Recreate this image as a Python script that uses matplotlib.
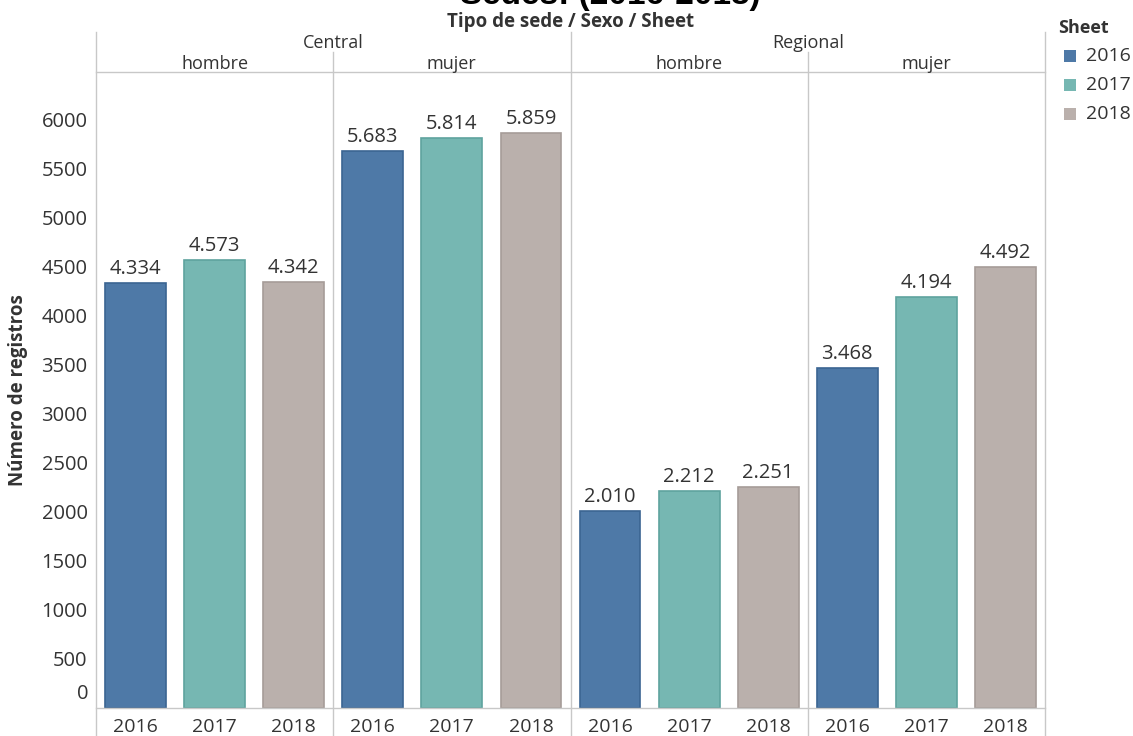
import matplotlib
matplotlib.use('Agg')
import matplotlib.pyplot as plt
import numpy as np
from matplotlib.lines import Line2D
from matplotlib.patches import Rectangle

# data
sedes = ['Central', 'Regional']
sexos = ['hombre', 'mujer']
years = ['2016', '2017', '2018']
v2016 = [4334, 5683, 2010, 3468]   # Central-hombre, Central-mujer, Regional-hombre, Regional-mujer
v2017 = [4573, 5814, 2212, 4194]
v2018 = [4342, 5859, 2251, 4492]
yticks = [0, 500, 1000, 1500, 2000, 2500, 3000, 3500, 4000, 4500, 5000, 5500, 6000]

colors = ['#4e79a7', '#76b7b2', '#bab0ac']
edges = ['#3b6592', '#5fa39e', '#a69c98']
grid = '#c8c8c8'
txt = '#333333'
font = 'Open Sans'
plt.rcParams['font.family'] = [font, 'DejaVu Sans']

W, H = 1133, 736
fig = plt.figure(figsize=(W / 100, H / 100), dpi=100)
L, R, T, B = 96, 1045, 72, 708
ax = fig.add_axes([L / W, (H - B) / H, (R - L) / W, (B - T) / H])

series = [v2016, v2017, v2018]
npanel = len(sedes) * len(sexos)
bw = 0.77
for j, vals in enumerate(series):
    x = np.arange(npanel) * 3 + j
    ax.bar(x, vals, bw, color=colors[j], edgecolor=edges[j], linewidth=1.2)
    for xi, v in zip(x, vals):
        ax.annotate(f'{v:,}'.replace(',', '.'), (xi, v), xytext=(0, 4), textcoords='offset pixels',
                    ha='center', va='bottom', fontsize=14.5, color=txt)

ax.set_xlim(-0.5, npanel * 3 - 0.5)
ax.set_ylim(0, 6485)
ax.set_xticks(np.arange(npanel * 3))
ax.set_xticklabels(years * npanel, fontsize=14, color=txt)
ax.set_yticks(yticks)
ax.set_yticklabels([''] + [str(t) for t in yticks[1:]], fontsize=14.5, color=txt)
ax.annotate('0', xy=(0, 0), xycoords=('axes fraction', 'data'), xytext=(-8, 14),
            textcoords='offset pixels', ha='right', va='center', fontsize=14.5, color=txt)
ax.tick_params(axis='both', length=0)
ax.tick_params(axis='y', pad=6)
ax.tick_params(axis='x', pad=7)
for s in ax.spines.values():
    s.set_visible(False)
ax.set_ylabel('Número de registros', fontsize=13.5, fontweight='bold', color=txt, labelpad=10)

# frame / header lines in pixel coords
def hline(y, x0, x1):
    fig.add_artist(Line2D([x0 / W, x1 / W], [1 - y / H, 1 - y / H], color=grid, lw=1))

def vline(x, y0, y1):
    fig.add_artist(Line2D([x / W, x / W], [1 - y0 / H, 1 - y1 / H], color=grid, lw=1))

hline(B, L, R)
hline(T, L, R)
pw = (R - L) / npanel
for k in range(npanel + 1):
    xk = L + k * pw
    top = 32 if k % 2 == 0 else 52
    vline(xk, top, H)

# headers
fig.text(610 / W, 1 - 4 / H, 'Sedes: (2016-2018)', ha='center', va='baseline',
         fontsize=24, fontweight='bold', family='Liberation Sans', color='black')
fig.text((L + R) / 2 / W, 1 - 22 / H, 'Tipo de sede / Sexo / Sheet', ha='center', va='center',
         fontsize=13.5, fontweight='bold', color=txt)
for i, sd in enumerate(sedes):
    cx = L + (2 * i + 1) * pw
    fig.text(cx / W, 1 - 43 / H, sd, ha='center', va='center', fontsize=13, color=txt)
    for k, sx in enumerate(sexos):
        cx2 = L + (2 * i + k + 0.5) * pw
        fig.text(cx2 / W, 1 - 64 / H, sx, ha='center', va='center', fontsize=13, color=txt)

# legend
fig.text(1058 / W, 1 - 28 / H, 'Sheet', ha='left', va='center', fontsize=13,
         fontweight='bold', color=txt)
for j, yr in enumerate(years):
    yc = 56 + 29 * j
    fig.add_artist(Rectangle((1064 / W, 1 - (yc + 6) / H), 12 / W, 12 / H,
                             facecolor=colors[j], edgecolor='none', transform=fig.transFigure))
    fig.text(1086 / W, 1 - yc / H, yr, ha='left', va='center', fontsize=14, color=txt)

fig.savefig('out.png', dpi=100)
